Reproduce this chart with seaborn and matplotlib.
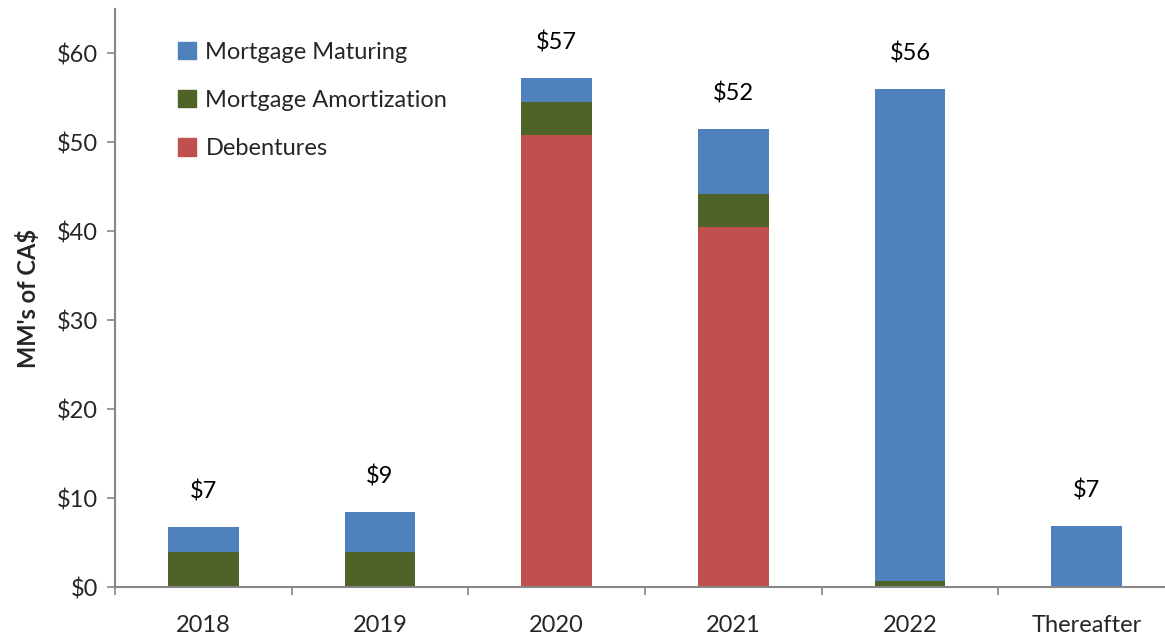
import numpy as np
import pandas as pd
import matplotlib
matplotlib.use("Agg")
import matplotlib.pyplot as plt
import seaborn as sns
from matplotlib.patches import Patch

categories = ["2018", "2019", "2020", "2021", "2022", "Thereafter"]
debentures = [0.0, 0.0, 50.8, 40.5, 0.0, 0.0]
amortization = [4.0, 4.0, 3.8, 3.7, 0.75, 0.0]
maturing = [2.75, 4.45, 2.6, 7.3, 55.3, 6.9]
total_labels = ["$7", "$9", "$57", "$52", "$56", "$7"]

c_mat = "#4F81BD"
c_am = "#4F6228"
c_deb = "#C0504D"

sns.set_theme(style="white")
plt.rcParams["font.family"] = ["Lato", "DejaVu Sans"]

W, H = 1165, 634
fig = plt.figure(figsize=(W / 100, H / 100), dpi=100)
ax = fig.add_axes([115 / W, (H - 587.3) / H, (W - 115) / W, (587.3 - 9) / H])

deb = np.array(debentures)
am = np.array(amortization)
mat = np.array(maturing)
df = pd.DataFrame({
    "cat": categories,
    "top": deb + am + mat,
    "mid": deb + am,
    "deb": deb,
})

sns.barplot(data=df, x="cat", y="top", color=c_mat, width=0.4, ax=ax,
            saturation=1, linewidth=0)
sns.barplot(data=df, x="cat", y="mid", color=c_am, width=0.4, ax=ax,
            saturation=1, linewidth=0)
sns.barplot(data=df, x="cat", y="deb", color=c_deb, width=0.4, ax=ax,
            saturation=1, linewidth=0)

FS = 17
for i, (t, lab) in enumerate(zip(df["top"], total_labels)):
    ax.text(i, t + 4.0, lab, ha="center", va="center", fontsize=FS, color="black")

ax.set_xlim(-0.5, 5.5 - 10 / 176.7)
ax.set_ylim(0, 65)
ax.set_yticks(range(0, 61, 10))
ax.set_yticklabels([f"${v}" for v in range(0, 61, 10)], fontsize=FS)
ax.set_xticks(np.arange(-0.5, 5.5, 1.0), minor=True)
ax.set_xticks(range(len(categories)))
ax.set_xticklabels(categories, fontsize=FS)
ax.tick_params(axis="x", which="major", length=0, pad=20)
ax.tick_params(axis="x", which="minor", length=6, width=1.2, color="#868686", direction="out", bottom=True)
ax.tick_params(axis="y", length=6, width=1.2, color="#868686", direction="out", left=True, pad=6)
ax.set_xlabel("")
ax.set_ylabel("MM's of CA$", fontsize=FS, fontweight="bold", labelpad=12)

for s in ["top", "right"]:
    ax.spines[s].set_visible(False)
for s in ["left", "bottom"]:
    ax.spines[s].set_color("#868686")
    ax.spines[s].set_linewidth(1.5)

handles = [Patch(color=c_mat, label="Mortgage Maturing"),
           Patch(color=c_am, label="Mortgage Amortization"),
           Patch(color=c_deb, label="Debentures")]
ax.legend(handles=handles, loc="upper left", bbox_to_anchor=(0.04, 0.98),
          frameon=False, fontsize=FS, handlelength=0.75, handleheight=0.75,
          handletextpad=0.4, labelspacing=1.15)

fig.savefig("out.png", dpi=100)
